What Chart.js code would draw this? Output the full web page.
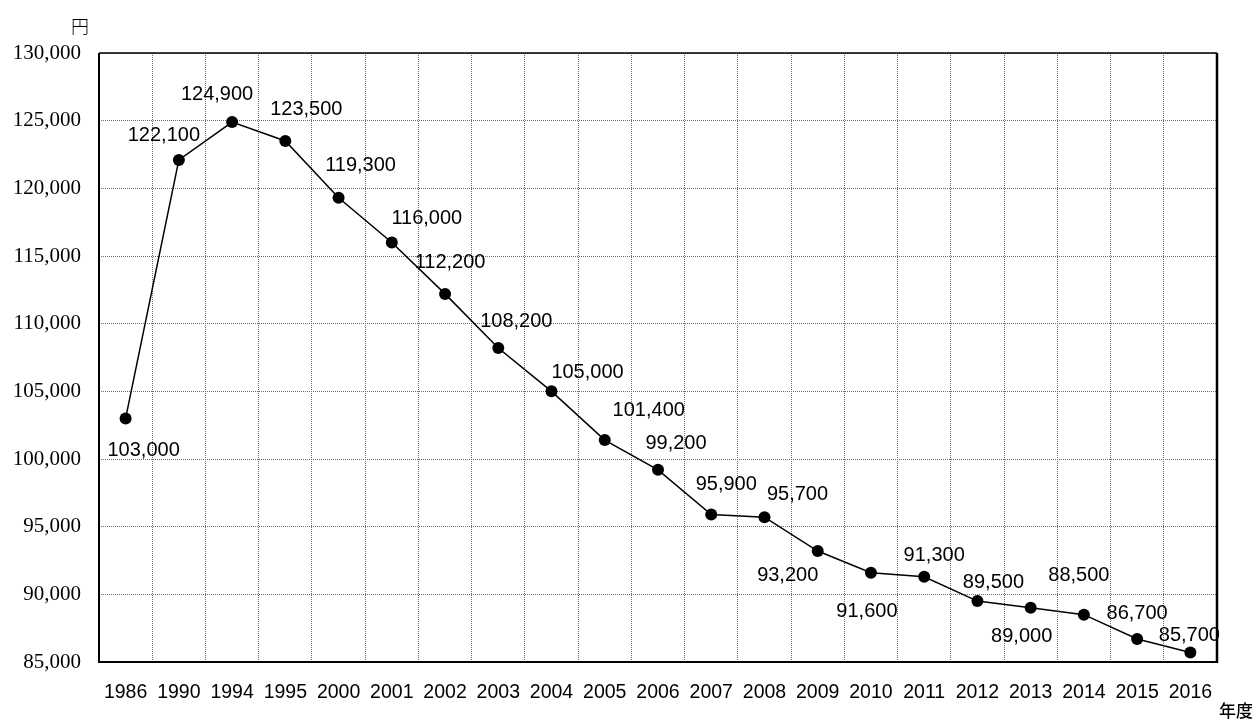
<!DOCTYPE html>
<html>
<head>
<meta charset="utf-8">
<script src="https://cdn.jsdelivr.net/npm/chart.js@4/dist/chart.umd.min.js"></script>
<style>
  html, body { margin: 0; padding: 0; background: #fff; }
  #wrap { width: 1258px; height: 720px; position: relative; }
</style>
</head>
<body>
<div id="wrap"><canvas id="c" width="1258" height="720"></canvas></div>
<script>
// 年度別の金額（円）
const years = ['1986', '1990', '1994', '1995', '2000', '2001', '2002', '2003', '2004', '2005',
  '2006', '2007', '2008', '2009', '2010', '2011', '2012', '2013', '2014', '2015', '2016'];
const amounts = [103000, 122100, 124900, 123500, 119300, 116000, 112200, 108200, 105000, 101400,
  99200, 95900, 95700, 93200, 91600, 91300, 89500, 89000, 88500, 86700, 85700];
const yMin = 85000;
const yMax = 130000;
const yStep = 5000;

// ラベルの表示位置（点の中心からのずれ, px）
const labelShift = [
  [18, 32], [-15, -24], [-15, -28], [21, -31], [22, -32], [35, -24], [5, -31],
  [18, -27], [36, -19], [44, -30], [18, -26], [15, -30], [33, -23], [-30, 24],
  [-4, 39], [10, -21], [16, -19], [-9, 29], [-5, -39], [0, -26], [-1, -17]
];

const fmt = v => v.toLocaleString('en-US');
const sansFont = '"Liberation Sans", Arial, sans-serif';

const frameAndText = {
  id: 'frameAndText',
  afterDatasetsDraw(chart) {
    const ctx = chart.ctx;
    const meta = chart.getDatasetMeta(0);
    ctx.save();
    ctx.fillStyle = '#000';
    ctx.font = '20px ' + sansFont;
    ctx.textAlign = 'center';
    ctx.textBaseline = 'middle';
    meta.data.forEach((pt, i) => {
      const s = labelShift[i] || [0, -24];
      ctx.fillText(fmt(amounts[i]), pt.x + s[0], pt.y + s[1]);
    });
    ctx.restore();
  },
  afterDraw(chart) {
    const ctx = chart.ctx;
    const a = chart.chartArea;
    ctx.save();
    ctx.strokeStyle = '#000';
    ctx.setLineDash([]);
    // 枠線
    ctx.lineWidth = 1.5;
    ctx.beginPath();
    ctx.moveTo(a.left, a.top);
    ctx.lineTo(a.right, a.top);
    ctx.stroke();
    ctx.lineWidth = 2;
    ctx.beginPath();
    ctx.moveTo(a.left, a.top);
    ctx.lineTo(a.left, a.bottom);
    ctx.lineTo(a.right, a.bottom);
    ctx.stroke();
    ctx.lineWidth = 2.5;
    ctx.beginPath();
    ctx.moveTo(a.right, a.top);
    ctx.lineTo(a.right, a.bottom + 1);
    ctx.stroke();
    // 単位
    ctx.fillStyle = '#000';
    ctx.textAlign = 'center';
    ctx.textBaseline = 'middle';
    ctx.font = '300 18px "Noto Sans CJK JP", sans-serif';
    ctx.fillText('円', 80, 26);
    ctx.font = '500 17px "Noto Sans CJK JP", sans-serif';
    ctx.fillText('年度', 1236, 711);
    ctx.restore();
  }
};

new Chart(document.getElementById('c'), {
  type: 'line',
  data: {
    labels: years,
    datasets: [{
      data: amounts,
      borderColor: '#000',
      borderWidth: 1.5,
      backgroundColor: '#000',
      pointBackgroundColor: '#000',
      pointBorderColor: '#000',
      pointRadius: 6,
      pointBorderWidth: 0,
      tension: 0,
      fill: false
    }]
  },
  options: {
    responsive: false,
    animation: false,
    devicePixelRatio: 1,
    layout: { padding: { left: 0, top: 53, right: 41, bottom: 0 } },
    plugins: {
      legend: { display: false },
      title: { display: false },
      tooltip: { enabled: false }
    },
    scales: {
      x: {
        type: 'category',
        offset: true,
        grid: { offset: true, color: '#6e6e6e', lineWidth: 1, drawTicks: false },
        border: { display: false, dash: [1, 1] },
        ticks: {
          color: '#000',
          font: { family: sansFont, size: 19.5 },
          padding: 19,
          maxRotation: 0,
          autoSkip: false
        },
        afterFit: s => { s.height = 58; }
      },
      y: {
        min: yMin,
        max: yMax,
        grid: { color: '#6e6e6e', lineWidth: 1, drawTicks: false },
        border: { display: false, dash: [1, 1] },
        ticks: {
          stepSize: yStep,
          color: '#000',
          font: { family: '"Liberation Serif", "Times New Roman", serif', size: 21 },
          padding: 18,
          callback: v => fmt(v)
        },
        afterFit: s => { s.width = 99; }
      }
    }
  },
  plugins: [frameAndText]
});
</script>
</body>
</html>
